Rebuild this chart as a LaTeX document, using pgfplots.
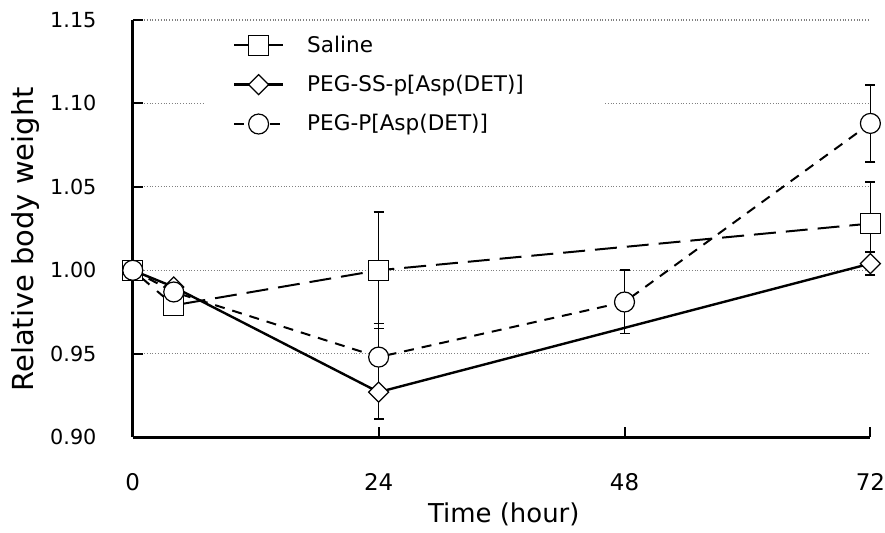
\documentclass[border=0pt]{standalone}
\usepackage{fontspec}
\setmainfont{DejaVu Sans}
\usepackage{pgfplots}
\pgfplotsset{compat=1.18}

\begin{document}
\begin{tikzpicture}
\begin{axis}[
  scale only axis, width=369.5pt, height=209pt,
  xmin=0, xmax=72, ymin=0.90, ymax=1.15,
  clip=false,
  axis x line=bottom, axis y line=left,
  axis line style={-, line width=1.4pt},
  xtick={0,24,48,72}, xticklabels={0,24,48,72},
  ytick={0.90,0.95,1.00,1.05,1.10,1.15},
  yticklabels={0.90,0.95,1.00,1.05,1.10,1.15},
  tick align=inside, major tick length=5pt,
  tick style={black, line width=1pt},
  xticklabel style={font=\fontsize{11.5}{13}\selectfont, anchor=center, yshift=-22.5pt, inner sep=0pt},
  yticklabel style={font=\fontsize{10.4}{12}\selectfont, anchor=east, xshift=-18pt, inner sep=0pt},
  ymajorgrids, grid style={densely dotted, gray, line width=0.6pt},
  xlabel={Time (hour)}, ylabel={Relative body weight},
  xlabel style={font=\fontsize{13}{15}\selectfont, at={(axis description cs:0.503,-0.184)}, anchor=center},
  ylabel style={font=\fontsize{14.5}{17}\selectfont, at={(axis description cs:-0.146,0.474)}, anchor=center},
  legend style={at={(axis description cs:0.0974,0.992)}, anchor=north west,
    draw=none, fill=white, inner xsep=14pt, inner ysep=4pt,
    row sep=6pt, column sep=9.5pt, cells={anchor=west},
    font=\fontsize{10.8}{13}\selectfont},
  legend image code/.code={\draw[mark repeat=2,mark phase=2,#1] plot coordinates {(0pt,0pt)(12.25pt,0pt)(24.5pt,0pt)};},
  every axis plot/.append style={black},
]
% Saline
\addplot[line width=1pt, dash pattern=on 11pt off 5pt,
  mark=square*, mark size=5pt, mark options={solid, fill=white, line width=0.6pt},
  error bars/.cd, y dir=both, y explicit,
  error bar style={solid, line width=0.8pt},
  error mark options={rotate=90, mark size=2.5pt, line width=0.8pt, solid}]
  coordinates {(0,1.000) +- (0,0) (4,0.979) +- (0,0) (24,1.000) +- (0,0.035) (72,1.028) +- (0,0.025)};
\addlegendentry{\makebox[133pt][l]{Saline}}
% PEG-SS-p[Asp(DET)]
\addplot[line width=1.2pt, solid,
  mark=square*, mark size=3.55pt, mark options={solid, fill=white, line width=0.6pt, rotate=45},
  error bars/.cd, y dir=both, y explicit,
  error bar style={solid, line width=0.8pt},
  error mark options={rotate=90, mark size=2.5pt, line width=0.8pt, solid}]
  coordinates {(0,1.000) +- (0,0) (4,0.990) +- (0,0) (24,0.927) +- (0,0.016) (72,1.004) +- (0,0.007)};
\addlegendentry{PEG-SS-p[Asp(DET)]}
% PEG-P[Asp(DET)]
\addplot[line width=1pt, dash pattern=on 5pt off 4pt,
  mark=*, mark size=5pt, mark options={solid, fill=white, line width=0.6pt},
  error bars/.cd, y dir=both, y explicit,
  error bar style={solid, line width=0.8pt},
  error mark options={rotate=90, mark size=2.5pt, line width=0.8pt, solid}]
  coordinates {(0,1.000) +- (0,0) (4,0.987) +- (0,0) (24,0.948) +- (0,0.020) (48,0.981) +- (0,0.019) (72,1.088) +- (0,0.023)};
\addlegendentry{PEG-P[Asp(DET)]}
% frame of the reference picture
\path (axis description cs:-0.18,1.0478) rectangle (axis description cs:1.0176,-0.2129);
\end{axis}
\end{tikzpicture}
\end{document}
